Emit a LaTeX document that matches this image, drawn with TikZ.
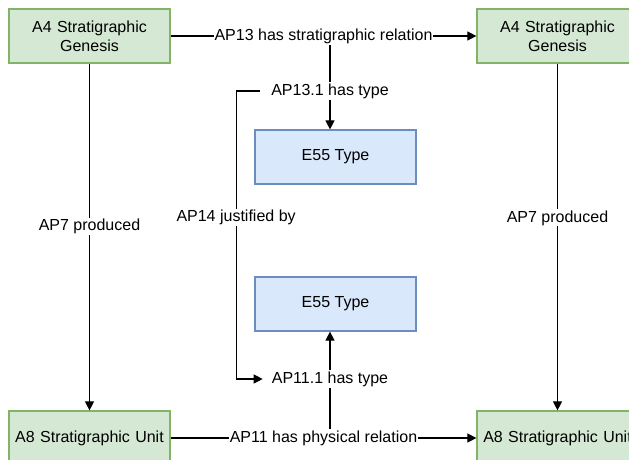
\documentclass[tikz,border=0pt]{standalone}
\usepackage{fontspec}
\setmainfont{Liberation Sans}
\usetikzlibrary{positioning, arrows.meta}

\definecolor{eventfill}{HTML}{D5E8D4}
\definecolor{eventline}{HTML}{82B366}
\definecolor{typefill}{HTML}{DAE8FC}
\definecolor{typeline}{HTML}{6C8EBF}

\begin{document}
\begin{tikzpicture}[x=1pt, y=-1pt, font=\fontsize{16}{19.2}\selectfont]
	\tikzstyle{event} = [rectangle, draw=eventline, fill=eventfill, line width=1.2pt, minimum width=161pt, minimum height=54pt, text width=155pt, align=center, inner sep=0pt]
	\tikzstyle{typebox} = [rectangle, draw=typeline, fill=typefill, line width=1.2pt, minimum width=161pt, minimum height=54pt, align=center]
	\tikzstyle{lbl} = [fill=white, inner sep=1pt]
	\tikzstyle{arrow} = [line width=1.1pt, -{Triangle[length=9pt, width=9pt]}]

	\useasboundingbox (0,0) rectangle (629,459);

	\node [event] (genesisA) at (89.5,36) {A4 Stratigraphic\\Genesis};
	\node [event] (genesisB) at (557.5,36) {A4 Stratigraphic\\Genesis};
	\node [event] (unitA) at (89.5,438) {A8 Stratigraphic Unit};
	\node [event] (unitB) at (557.5,438) {A8 Stratigraphic Unit};
	\node [typebox] (typeA) at (335.5,157) {E55 Type};
	\node [typebox] (typeB) at (335.5,304) {E55 Type};

	\draw [arrow] (genesisA) -- node [lbl, pos=0.47] {AP7 produced} (unitA);
	\draw [arrow] (genesisB) -- node [lbl, pos=0.445] {AP7 produced} (unitB);
	\draw [arrow] (genesisA) -- node [lbl] (strat) {AP13 has stratigraphic relation} (genesisB);
	\draw [arrow] (unitA) -- node [lbl] (phys) {AP11 has physical relation} (unitB);

	\node [lbl] (stratType) at (330,91) {AP13.1 has type};
	\node [lbl] (physType) at (330,379) {AP11.1 has type};
	\draw [arrow] (strat.south -| stratType) -- (stratType) -- (stratType |- typeA.north);
	\draw [arrow] (phys.north -| physType) -- (physType) -- (physType |- typeB.south);

	\draw [arrow] ([xshift=-10pt]stratType.west) -- ++(-24,0) |- node [lbl, pos=0.22] {AP14 justified by} ([xshift=-8pt]physType.west);
\end{tikzpicture}
\end{document}
